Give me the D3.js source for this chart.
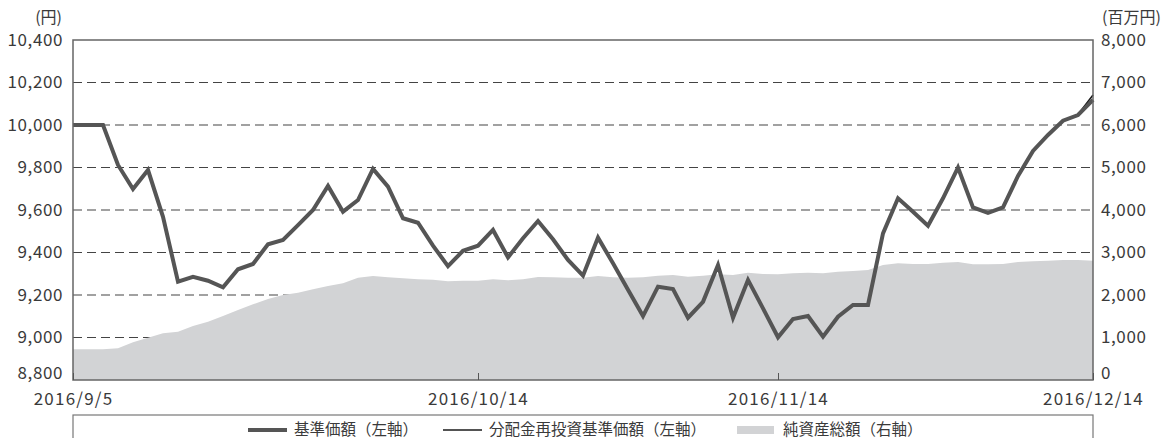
<!DOCTYPE html>
<html>
<head>
<meta charset="utf-8">
<script src="https://cdn.jsdelivr.net/npm/d3@7"></script>
<style>
  body { margin: 0; background: #fff; }
  text { font-family: "Noto Sans CJK JP", "Noto Sans", sans-serif; fill: #3a3a3a; }
  .axis text { font-size: 17px; letter-spacing: 0.6px; }
  .x-axis text { letter-spacing: 1.2px; }
  .axis path { display: none; }
  .x-axis line { stroke: #555; }
  .legend text { font-size: 15.5px; }
</style>
</head>
<body>
<div id="chart"></div>
<script>
// business days (x categories)
const dates = [
  "2016/9/5", "2016/9/6", "2016/9/7", "2016/9/8", "2016/9/9",
  "2016/9/12", "2016/9/13", "2016/9/14", "2016/9/15", "2016/9/16",
  "2016/9/20", "2016/9/21", "2016/9/22", "2016/9/23",
  "2016/9/26", "2016/9/27", "2016/9/28", "2016/9/29", "2016/9/30",
  "2016/10/3", "2016/10/4", "2016/10/5", "2016/10/6", "2016/10/7",
  "2016/10/11", "2016/10/12", "2016/10/13", "2016/10/14",
  "2016/10/17", "2016/10/18", "2016/10/19", "2016/10/20", "2016/10/21",
  "2016/10/24", "2016/10/25", "2016/10/26", "2016/10/27", "2016/10/28",
  "2016/10/31", "2016/11/1", "2016/11/2", "2016/11/4",
  "2016/11/7", "2016/11/8", "2016/11/9", "2016/11/10", "2016/11/11",
  "2016/11/14", "2016/11/15", "2016/11/16", "2016/11/17", "2016/11/18",
  "2016/11/21", "2016/11/22", "2016/11/24", "2016/11/25",
  "2016/11/28", "2016/11/29", "2016/11/30", "2016/12/1", "2016/12/2",
  "2016/12/5", "2016/12/6", "2016/12/7", "2016/12/8", "2016/12/9",
  "2016/12/12", "2016/12/13", "2016/12/14"
];

// 基準価額 (円)
const navValues = [
  10000, 10000, 10000, 9812, 9699, 9788, 9568, 9263, 9286, 9267,
  9236, 9321, 9346, 9439, 9459, 9529, 9600, 9713, 9592, 9647,
  9793, 9710, 9561, 9540, 9432, 9336, 9408, 9432, 9506, 9377,
  9467, 9548, 9462, 9365, 9291, 9470, 9349, 9225, 9101, 9239,
  9228, 9093, 9168, 9341, 9093, 9271, 9137, 9001, 9087, 9101,
  9004, 9098, 9153, 9153, 9490, 9655, 9592, 9526, 9655, 9800,
  9612, 9587, 9612, 9760, 9878, 9953, 10020, 10047, 10118
];

// 分配金再投資基準価額 (円)
const reinvestValues = [
  10000, 10000, 10000, 9812, 9699, 9788, 9568, 9263, 9286, 9267,
  9236, 9321, 9346, 9439, 9459, 9529, 9600, 9713, 9592, 9647,
  9793, 9710, 9561, 9540, 9432, 9336, 9408, 9432, 9506, 9377,
  9467, 9548, 9462, 9365, 9291, 9470, 9349, 9225, 9101, 9239,
  9228, 9093, 9168, 9341, 9093, 9271, 9137, 9001, 9087, 9101,
  9004, 9098, 9153, 9153, 9490, 9655, 9592, 9526, 9655, 9800,
  9612, 9587, 9612, 9760, 9878, 9953, 10020, 10050, 10141
];

// 純資産総額 (百万円)
const netAssets = [
  722, 722, 722, 745, 886, 996, 1098, 1137, 1270, 1372,
  1506, 1647, 1780, 1906, 2000, 2055, 2133, 2212, 2275, 2408,
  2447, 2416, 2392, 2369, 2361, 2322, 2337, 2337, 2369, 2345,
  2369, 2424, 2416, 2408, 2408, 2447, 2416, 2408, 2416, 2455,
  2471, 2431, 2455, 2486, 2471, 2525, 2494, 2486, 2510, 2525,
  2510, 2549, 2565, 2588, 2706, 2745, 2729, 2729, 2761, 2776,
  2722, 2722, 2729, 2776, 2792, 2808, 2824, 2824, 2808
];

const leftTicks = [8800, 9000, 9200, 9400, 9600, 9800, 10000, 10200, 10400];
const rightTicks = [0, 1000, 2000, 3000, 4000, 5000, 6000, 7000, 8000];
const dateTicks = ["2016/9/5", "2016/10/14", "2016/11/14", "2016/12/14"];

const legendItems = [
  {label: "基準価額（左軸）", type: "thick"},
  {label: "分配金再投資基準価額（左軸）", type: "thin"},
  {label: "純資産総額（右軸）", type: "area"}
];

const svgWidth = 1165;
const svgHeight = 438;
const margin = {top: 40, right: 72, bottom: 58, left: 73};
const width = svgWidth - margin.left - margin.right;
const height = svgHeight - margin.top - margin.bottom;

const svg = d3.select("#chart").append("svg")
                .attr("width", svgWidth)
                .attr("height", svgHeight);

const chart = svg.append("g")
                  .attr("transform", `translate(${margin.left},${margin.top})`);

// scales
const x = d3.scalePoint().domain(dates).range([0, width]);
const yLeft = d3.scaleLinear().domain([8800, 10400]).range([height, 0]);
const yRight = d3.scaleLinear().domain([0, 8000]).range([height, 0]);

// dashed grid
chart.append("g")
      .selectAll("line")
      .data(leftTicks.slice(1, -1))
      .join("line")
        .attr("x1", 0)
        .attr("x2", width)
        .attr("y1", d => yLeft(d))
        .attr("y2", d => yLeft(d))
        .attr("stroke", "#444")
        .attr("stroke-width", 1.2)
        .attr("stroke-dasharray", "9,5");

// net assets area
const area = d3.area()
                .x((d, i) => x(dates[i]))
                .y0(height)
                .y1(d => yRight(d));

chart.append("path")
      .datum(netAssets)
      .attr("fill", "#d2d3d5")
      .attr("d", area);

// lines
const navLine = d3.line()
                  .x((d, i) => x(dates[i]))
                  .y(d => yLeft(d));

chart.append("path")
      .datum(reinvestValues)
      .attr("fill", "none")
      .attr("stroke", "#1a1a1a")
      .attr("stroke-width", 1.6)
      .attr("d", navLine);

chart.append("path")
      .datum(navValues)
      .attr("fill", "none")
      .attr("stroke", "#555")
      .attr("stroke-width", 4)
      .attr("stroke-linejoin", "miter")
      .attr("d", navLine);

// frame
chart.append("rect")
      .attr("width", width)
      .attr("height", height)
      .attr("fill", "none")
      .attr("stroke", "#666")
      .attr("stroke-width", 1.5);

// axes
chart.append("g")
      .attr("class", "axis y-axis")
      .call(d3.axisLeft(yLeft)
              .tickValues(leftTicks)
              .tickFormat(d3.format(","))
              .tickSize(0)
              .tickPadding(10));

chart.append("g")
      .attr("class", "axis y-axis")
      .attr("transform", `translate(${width},0)`)
      .call(d3.axisRight(yRight)
              .tickValues(rightTicks)
              .tickFormat(d3.format(","))
              .tickSize(0)
              .tickPadding(8));

// lift the lowest labels off the date labels
chart.selectAll(".y-axis .tick")
      .filter(d => d === 8800 || d === 0)
      .select("text")
        .attr("y", -7);

chart.append("g")
      .attr("class", "axis x-axis")
      .attr("transform", `translate(0,${height})`)
      .call(d3.axisBottom(x)
              .tickValues(dateTicks)
              .tickSizeInner(-7)
              .tickPadding(13));

// unit labels
chart.append("text")
      .attr("class", "unit")
      .attr("x", -11)
      .attr("y", -17)
      .attr("text-anchor", "end")
      .style("font-size", "16px")
      .text("(円)");

chart.append("text")
      .attr("class", "unit")
      .attr("x", width + 9)
      .attr("y", -17)
      .style("font-size", "16px")
      .text("(百万円)");

// legend
const legend = svg.append("g")
                   .attr("class", "legend")
                   .attr("transform", `translate(${margin.left},415)`);

legend.append("rect")
       .attr("width", width)
       .attr("height", 40)
       .attr("fill", "none")
       .attr("stroke", "#777")
       .attr("stroke-width", 1.2);

const legendX = [175, 370, 664];

const item = legend.selectAll(".item")
                    .data(legendItems)
                    .join("g")
                      .attr("class", "item")
                      .attr("transform", (d, i) => `translate(${legendX[i]},15)`);

item.filter(d => d.type !== "area")
    .append("line")
      .attr("x1", 0)
      .attr("x2", 39)
      .attr("stroke", d => d.type === "thick" ? "#555" : "#1a1a1a")
      .attr("stroke-width", d => d.type === "thick" ? 4 : 1.6);

item.filter(d => d.type === "area")
    .append("rect")
      .attr("y", -4)
      .attr("width", 37)
      .attr("height", 8)
      .attr("fill", "#d2d3d5");

item.append("text")
     .attr("x", 46)
     .attr("dy", "0.35em")
     .text(d => d.label);
</script>
</body>
</html>
